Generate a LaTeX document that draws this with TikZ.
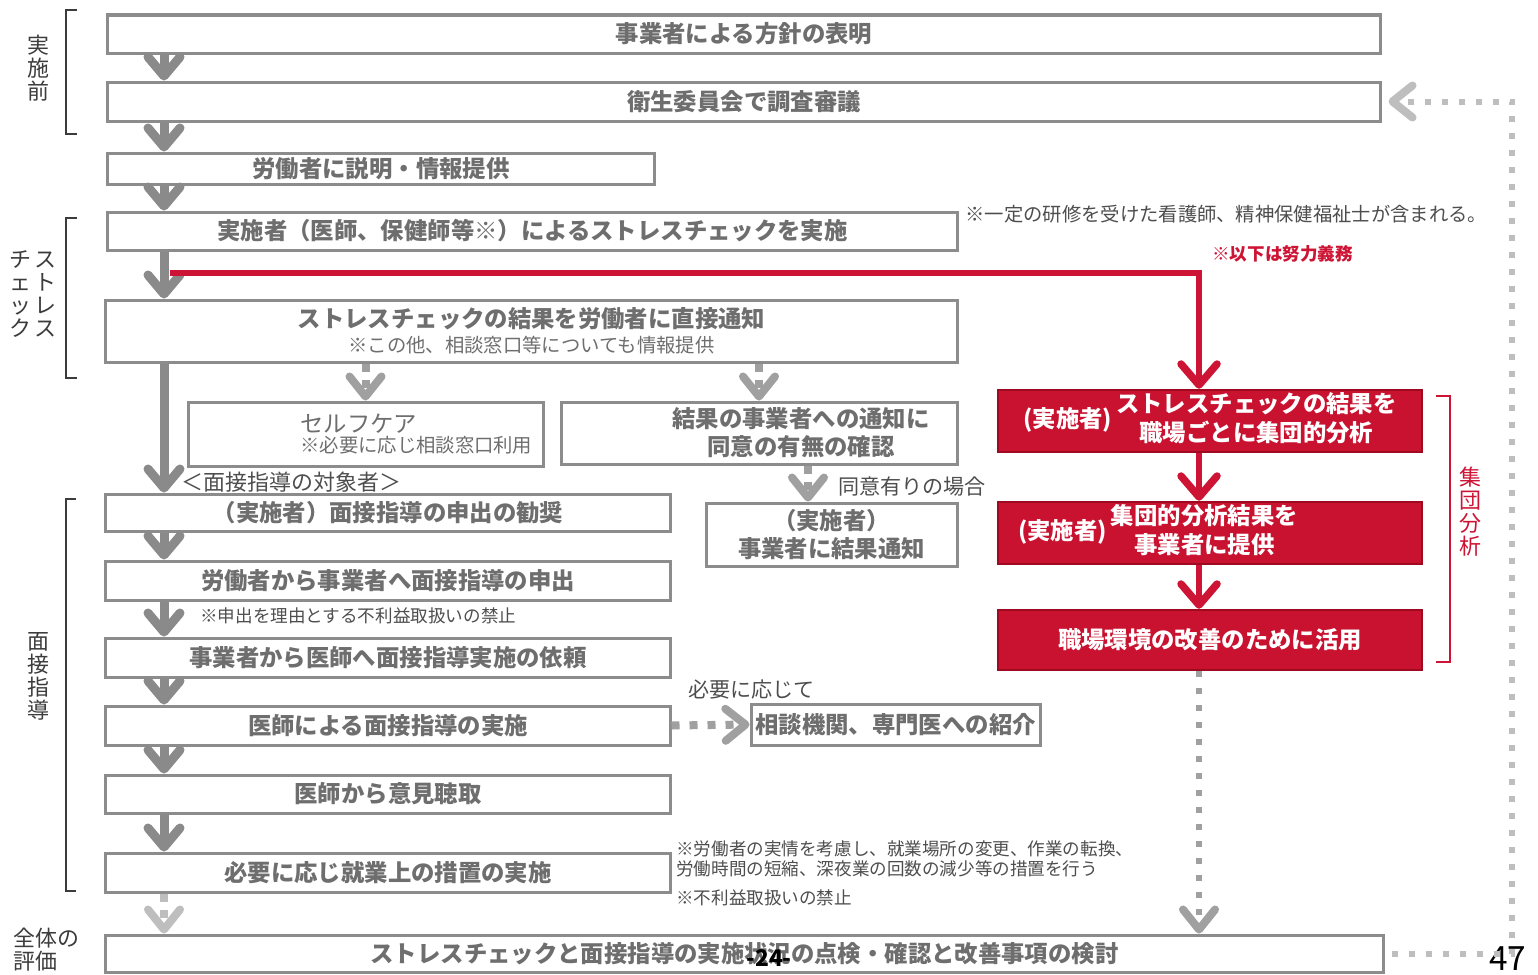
\documentclass[tikz,border=0pt]{standalone}
\usepackage{fontspec}
\setmainfont{Noto Sans CJK JP}
\usetikzlibrary{arrows.meta}
\definecolor{boxgray}{RGB}{140,140,140}
\definecolor{txtgray}{RGB}{110,110,110}
\definecolor{arrgray}{RGB}{138,138,138}
\definecolor{dotgray}{RGB}{160,160,160}
\definecolor{lightdot}{RGB}{190,190,190}
\definecolor{notegray}{RGB}{78,78,78}
\definecolor{sidegray}{RGB}{60,60,60}
\definecolor{rdFill}{RGB}{200,18,48}
\definecolor{rdDark}{RGB}{160,10,32}
\definecolor{rdLine}{RGB}{206,20,52}
\newcommand{\bxfont}{\fontsize{13.3}{16}\selectfont\bfseries}
\newcommand{\bxsmall}{\fontsize{11}{13}\selectfont}
\newcommand{\ntfont}{\fontsize{10}{11.4}\selectfont}
\newcommand{\sdfont}{\fontsize{12.5}{13.1}\selectfont}
\tikzstyle{grbox}=[draw=boxgray, line width=0.6mm, fill=white, inner sep=0pt, text=txtgray, font=\bxfont, align=center]
\tikzstyle{redbox}=[draw=rdDark, line width=0.5mm, fill=rdFill, inner sep=0pt, text=white, font=\bxfont]
\tikzstyle{intext}=[inner sep=0pt, text=txtgray, font=\bxfont, align=center]
\tikzstyle{note}=[inner sep=0pt, text=notegray, font=\ntfont, anchor=west]
\tikzstyle{side}=[inner sep=0pt, text=sidegray, font=\sdfont, align=center]
\tikzstyle{brk}=[draw=sidegray, line width=0.25mm]
\tikzstyle{garrow}=[draw=arrgray, line width=1.8mm, -{Straight Barb[round, length=3.8mm, width=6.4mm, line width=1.8mm]}]
\tikzstyle{gdots}=[draw=dotgray, line width=1.2mm, dash pattern=on 1.2mm off 2.2mm, -{Straight Barb[round, length=4mm, width=6.4mm, line width=1.6mm]}]
\tikzstyle{ldots}=[gdots, draw=lightdot]
\tikzstyle{rline}=[draw=rdLine, line width=1.3mm, -{Straight Barb[round, length=4.2mm, width=7.2mm, line width=1.5mm]}]
\tikzstyle{rarrow}=[rline, line width=1.2mm]

\begin{document}
\begin{tikzpicture}[x=0.2mm, y=-0.2mm]
    \useasboundingbox (0,0) rectangle (1538,974);
    \fill[white] (0,0) rectangle (1538,974);

    %%%%%  Columnas de flechas  %%%%%
    \coordinate (colL) at (164,0);
    \coordinate (colC) at (808,0);
    \coordinate (colR) at (1199,0);
    \coordinate (colF) at (1512,0);
    \coordinate (rs) at (170,273);

    %%%%%  Cajas principales  %%%%%
    \node (b1) [grbox, minimum width=254.4mm, minimum height=7.6mm] at (744,34) {事業者による方針の表明};
    \node (b2) [grbox, minimum width=254.4mm, minimum height=7.8mm] at (744,101.5) {衛生委員会で調査審議};
    \node (b3) [grbox, minimum width=109.2mm, minimum height=6.2mm] at (381,168.5) {労働者に説明・情報提供};
    \node (b4) [grbox, minimum width=169.8mm, minimum height=7.6mm] at (532.5,231) {実施者（医師、保健師等※）によるストレスチェックを実施};
    \node (b5) [grbox, minimum width=170.2mm, minimum height=12.4mm] at (531.5,331)
      {ストレスチェックの結果を労働者に直接通知\\[-2pt]{\bxsmall\mdseries ※この他、相談窓口等についても情報提供}};
    \node (b6) [grbox, minimum width=71mm, minimum height=12.8mm] at (365.5,434) {};
    \node (b6t) [intext, align=left, anchor=west, font=\mdseries] at (300,434)
      {{\fontsize{13.3}{16}\selectfont セルフケア}\\[-1pt]{\bxsmall ※必要に応じ相談窓口利用}};
    \node (b7) [grbox, minimum width=79.2mm, minimum height=12.4mm] at (759,433) {};
    \node (b7t) [intext] at (801,433) {結果の事業者への通知に\\同意の有無の確認};
    \node (b8) [grbox, minimum width=112.8mm, minimum height=7.4mm] at (388,512.5) {（実施者）面接指導の申出の勧奨};
    \node (b9) [grbox, minimum width=50.2mm, minimum height=12.6mm] at (831.5,534.5) {（実施者）\\事業者に結果通知};
    \node (b10) [grbox, minimum width=112.8mm, minimum height=7.8mm] at (388,580.5) {労働者から事業者へ面接指導の申出};
    \node (b11) [grbox, minimum width=112.8mm, minimum height=7.8mm] at (388,657.5) {事業者から医師へ面接指導実施の依頼};
    \node (b12) [grbox, minimum width=112.8mm, minimum height=7.8mm] at (388,725.5) {医師による面接指導の実施};
    \node (b13) [grbox, minimum width=112.8mm, minimum height=7.6mm] at (388,794) {医師から意見聴取};
    \node (b14) [grbox, minimum width=112.8mm, minimum height=7.8mm] at (388,872.5) {必要に応じ就業上の措置の実施};
    \node (b15) [grbox, minimum width=255.4mm, minimum height=7.4mm] at (744.5,953.5) {ストレスチェックと面接指導の実施状況の点検・確認と改善事項の検討};
    \node (b16) [grbox, minimum width=57.8mm, minimum height=8.2mm] at (895.5,724.5) {相談機関、専門医への紹介};

    %%%%%  Análisis de grupo (rojo)  %%%%%
    \node (r1) [redbox, minimum width=84.8mm, minimum height=12.4mm] at (1210,421)
      {(実施者)\,\begin{tabular}{@{}c@{}}ストレスチェックの結果を\\職場ごとに集団的分析\end{tabular}};
    \node (r2) [redbox, minimum width=84.8mm, minimum height=12.4mm] at (1210,533) {};
    \node (r2t) [inner sep=0pt, text=white, font=\bxfont] at (1158,533)
      {(実施者)\,\begin{tabular}{@{}c@{}}集団的分析結果を\\事業者に提供\end{tabular}};
    \node (r3) [redbox, minimum width=84.8mm, minimum height=12mm] at (1210,640) {職場環境の改善のために活用};

    %%%%%  Notas  %%%%%
    \node (n1) [note, font=\fontsize{11}{13}\selectfont] at (965,214) {※一定の研修を受けた看護師、精神保健福祉士が含まれる。};
    \node (n2) [note, text=rdLine, font=\ntfont\bfseries] at (1212,254) {※以下は努力義務};
    \node (n3) [note, font=\fontsize{12.5}{14}\selectfont] at (181,482) {＜面接指導の対象者＞};
    \node (n4) [note, font=\fontsize{12}{14}\selectfont] at (838,487) {同意有りの場合};
    \node (n5) [note] at (200,616) {※申出を理由とする不利益取扱いの禁止};
    \node (n6) [note, font=\fontsize{12}{14}\selectfont] at (688,689) {必要に応じて};
    \node (n7) [note, align=left] at (676,859) {※労働者の実情を考慮し、就業場所の変更、作業の転換、\\労働時間の短縮、深夜業の回数の減少等の措置を行う};
    \node (n8) [note] at (676,898) {※不利益取扱いの禁止};
    \node (pg) [inner sep=0pt, font=\fontsize{13}{15}\selectfont\bfseries] at (769,958) {-24-};
    \node (pn) [inner sep=0pt, anchor=south west, font=\fontsize{19}{21}\selectfont] at (1489,971) {47};

    %%%%%  Etiquetas laterales  %%%%%
    \node (s1) [side] at (38,68) {実\\施\\前};
    \node (s2) [side] at (33,294) {チ\,ス\\ェ\,ト\\ッ\,レ\\ク\,ス};
    \node (s3) [side] at (38,676) {面\\接\\指\\導};
    \node (s4) [side, align=left, anchor=north west] at (13,928) {全体の\\評価};
    \node (s5) [side, text=rdLine] at (1470,512) {集\\団\\分\\析};
    \draw[brk] (77,10) -- (66,10) -- (66,134) -- (77,134);
    \draw[brk] (77,218) -- (66,218) -- (66,378) -- (77,378);
    \draw[brk] (76,499) -- (66,499) -- (66,891) -- (76,891);
    \draw[brk, draw=rdLine] (1436,396) -- (1450,396) -- (1450,662) -- (1436,662);

    %%%%%  Flechas  %%%%%
    \draw[garrow] (colL |- b1.south) -- (colL |- b2.north);
    \draw[garrow] (colL |- b2.south) -- (colL |- b3.north);
    \draw[garrow] (colL |- b3.south) -- (colL |- b4.north);
    \draw[garrow] (colL |- b4.south) -- (colL |- b5.north);
    \draw[garrow] (colL |- b5.south) -- (colL |- b8.north);
    \draw[garrow] (colL |- b8.south) -- (colL |- b10.north);
    \draw[garrow] (colL |- b10.south) -- (colL |- b11.north);
    \draw[garrow] (colL |- b11.south) -- (colL |- b12.north);
    \draw[garrow] (colL |- b12.south) -- (colL |- b13.north);
    \draw[garrow] (colL |- b13.south) -- (colL |- b14.north);
    \draw[ldots, line width=1.6mm, dash pattern=on 1.6mm off 1.6mm] (colL |- b14.south) -- (colL |- b15.north);

    \draw[gdots, line width=1.6mm, dash pattern=on 1.6mm off 1.6mm] (b5.south -| b6.north) -- (b6.north);
    \draw[gdots, line width=1.6mm, dash pattern=on 1.6mm off 1.6mm] (b5.south -| b7.north) -- (b7.north);
    \draw[gdots, line width=1.6mm, dash pattern=on 1.6mm off 1.6mm] (colC |- b7.south) -- (colC |- b9.north);
    \draw[gdots, line width=1.6mm, dash pattern=on 1.6mm off 2mm] (b12.east) -- (b16.west);

    \draw[rline] (rs) -| (colR |- r1.north);
    \draw[rarrow] (colR |- r1.south) -- (colR |- r2.north);
    \draw[rarrow] (colR |- r2.south) -- (colR |- r3.north);
    \draw[gdots] (colR |- r3.south) -- (colR |- b15.north);

    \draw[ldots, shorten <=1.4mm, shorten >=1.4mm] (b15.east) -- (b15.east -| colF) -- (b2.east -| colF) -- (b2.east);
\end{tikzpicture}
\end{document}
